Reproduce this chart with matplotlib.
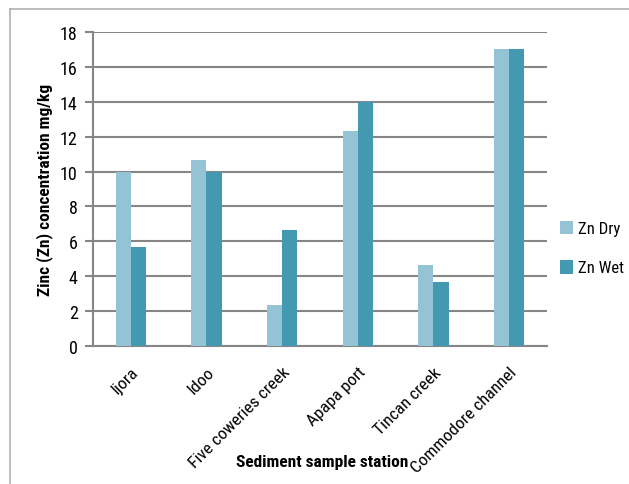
import os
import matplotlib
matplotlib.use("Agg")
import matplotlib.pyplot as plt
from matplotlib import font_manager as fm
from matplotlib.lines import Line2D
from matplotlib.transforms import ScaledTranslation
import numpy as np

stations = ["Ijora", "Idoo", "Five coweries creek", "Apapa port",
            "Tincan creek", "Commodore channel"]
zn_dry = [10.0, 10.67, 2.33, 12.33, 4.67, 17.0]
zn_wet = [5.67, 10.0, 6.67, 14.0, 3.67, 17.0]
y_ticks = [0, 2, 4, 6, 8, 10, 12, 14, 16, 18]


def narrow_font(bold, size):
    # look for a condensed face among the installed fonts
    if bold:
        wanted = ["RobotoCondensed-Bold.", "LiberationSansNarrow-Bold.",
                  "NotoSans-CondensedBold.", "DejaVuSansCondensed-Bold.",
                  "OpenSans-CondensedBold."]
    else:
        wanted = ["RobotoCondensed-Regular.", "LiberationSansNarrow-Regular.",
                  "NotoSans-Condensed.", "DejaVuSansCondensed.",
                  "OpenSans-CondensedRegular."]
    files = [f.fname for f in fm.fontManager.ttflist]
    for name in wanted:
        for path in files:
            if name in os.path.basename(path):
                return fm.FontProperties(fname=path, size=size)
    return fm.FontProperties(family="DejaVu Sans",
                             weight="bold" if bold else "normal", size=size)


tick_font = narrow_font(False, 13)
cat_font = narrow_font(False, 12.5)
legend_font = narrow_font(False, 12)
label_font = narrow_font(True, 12.5)

dry_color = "#93c3d5"
wet_color = "#4399b0"
grid_color = "#868686"

fig = plt.figure(figsize=(6.29, 4.85), dpi=100)
ax = fig.add_axes([93 / 629, 1 - 347 / 485, (547 - 93) / 629, (347 - 33) / 485])

x = np.arange(len(stations))
w = 0.2
ax.bar(x - w / 2, zn_dry, w, color=dry_color, label="Zn Dry", zorder=3)
ax.bar(x + w / 2, zn_wet, w, color=wet_color, label="Zn Wet", zorder=3)

ax.set_xlim(-0.5, len(stations) - 0.5)
ax.set_ylim(0, 18)
ax.set_yticks(y_ticks)
ax.set_yticklabels([str(t) for t in y_ticks], fontproperties=tick_font)
ax.yaxis.grid(True, color=grid_color, linewidth=1.5, zorder=0)

ax.set_xticks(x)
ax.set_xticklabels(stations, rotation=45, ha="right", va="top",
                   rotation_mode="anchor", fontproperties=cat_font)
shift = ScaledTranslation(6 / 100, 0, fig.dpi_scale_trans)
for lab in ax.get_xticklabels():
    lab.set_transform(lab.get_transform() + shift)
ax.tick_params(axis="x", length=0, pad=13)
ax.tick_params(axis="y", length=6, width=1.5, color=grid_color, pad=5)

for side in ["top", "right"]:
    ax.spines[side].set_visible(False)
for side in ["left", "bottom"]:
    ax.spines[side].set_color(grid_color)
    ax.spines[side].set_linewidth(1.5)

# axis titles
fig.text(45 / 629, 1 - 190 / 485, "Zinc (Zn) concentration mg/kg",
         fontproperties=label_font, rotation=90, ha="center", va="center")
fig.text(322 / 629, 1 - 463 / 485, "Sediment sample station",
         fontproperties=label_font, ha="center", va="center")

fig.legend(loc="center left", bbox_to_anchor=(553 / 629, 1 - 249 / 485),
           frameon=False, prop=legend_font, handlelength=0.8,
           handleheight=0.9, handletextpad=0.3, labelspacing=1.4,
           borderaxespad=0)

# outer chart frame
fig.add_artist(Line2D([10 / 629, 10 / 629], [0, 1 - 9.5 / 485],
                      color="#b0b0b0", linewidth=1.2))
fig.add_artist(Line2D([10 / 629, 1], [1 - 9.5 / 485, 1 - 9.5 / 485],
                      color="#b0b0b0", linewidth=1.2))

fig.savefig("out.png", dpi=100)
